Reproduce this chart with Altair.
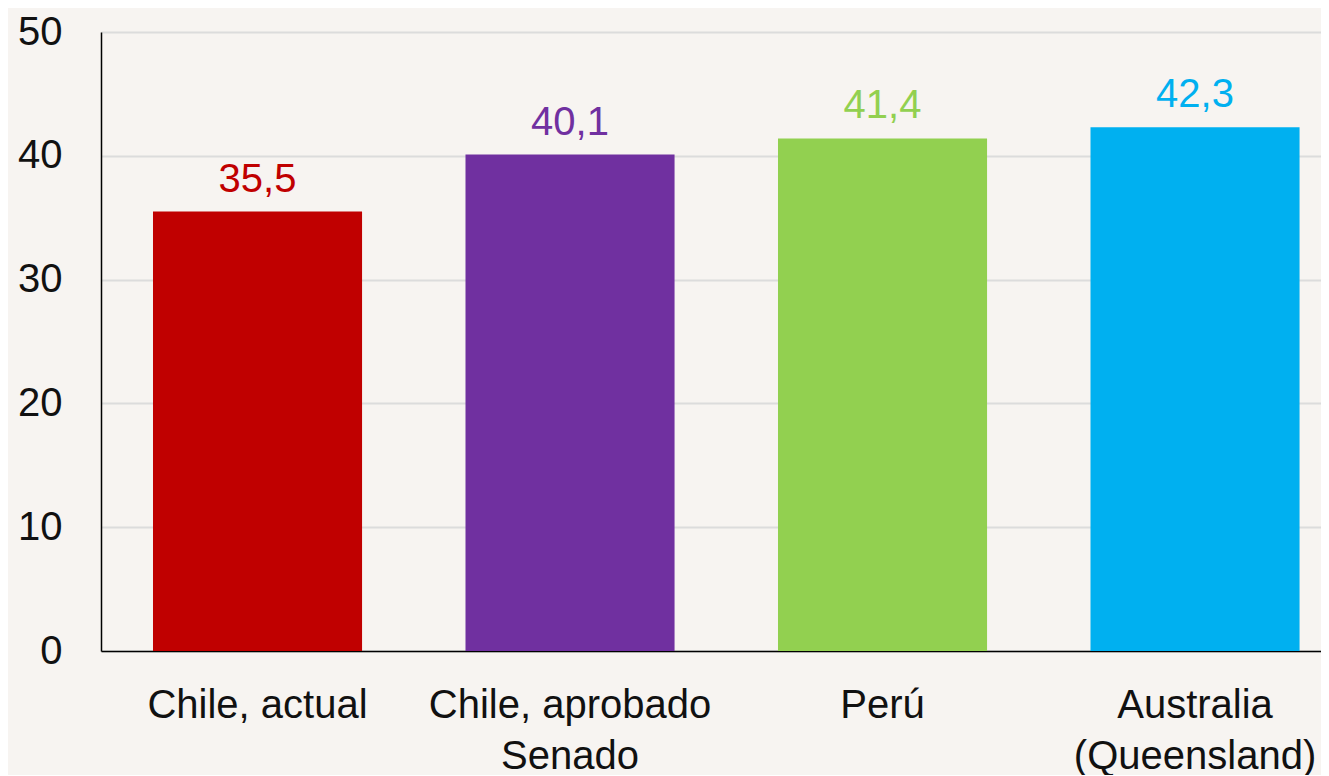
import altair as alt
import pandas as pd

categories = ["Chile, actual", "Chile, aprobado\nSenado", "Perú", "Australia\n(Queensland)"]
values = [35.5, 40.1, 41.4, 42.3]
labels = ["35,5", "40,1", "41,4", "42,3"]
colors = ["#c00000", "#7030a0", "#92d050", "#00b0f0"]

df = pd.DataFrame({"cat": categories, "val": values, "lab": labels, "col": colors})

FONT = "Liberation Sans"

x = alt.X("cat:N", sort=categories, title=None,
          scale=alt.Scale(paddingInner=0.331, paddingOuter=0.1175, align=0.708),
          axis=alt.Axis(labelAngle=0, labelFontSize=40, labelFont=FONT, labelColor="#111111",
                        labelExpr="split(datum.label, '\\n')", labelLineHeight=51,
                        labelPadding=34, ticks=False, domainColor="#000000", domainWidth=1.5,
                        grid=False, labelLimit=400))
y = alt.Y("val:Q", title=None,
          scale=alt.Scale(domain=[0, 50]),
          axis=alt.Axis(values=[0, 10, 20, 30, 40, 50], labelFontSize=40, labelFont=FONT,
                        labelColor="#111111", ticks=False, labelPadding=39,
                        domainColor="#000000", domainWidth=1.5,
                        gridColor="#dcdcdc", gridWidth=2))

bars = alt.Chart(df).mark_bar().encode(
    x=x, y=y, color=alt.Color("col:N", scale=None)
)
text = alt.Chart(df).mark_text(baseline="bottom", dy=-12, fontSize=40, font=FONT).encode(
    x=alt.X("cat:N", sort=categories), y="val:Q", text="lab:N", color=alt.Color("col:N", scale=None)
)

chart = (bars + text).properties(
    width=1220, height=619,
    background="#f7f4f1",
    autosize=alt.AutoSizeParams(type="none"),
    padding={"left": 93, "top": 24, "right": 0, "bottom": 124},
).configure_view(stroke=None)

chart.save("out.html", embed_options={"renderer": "svg", "actions": False})
